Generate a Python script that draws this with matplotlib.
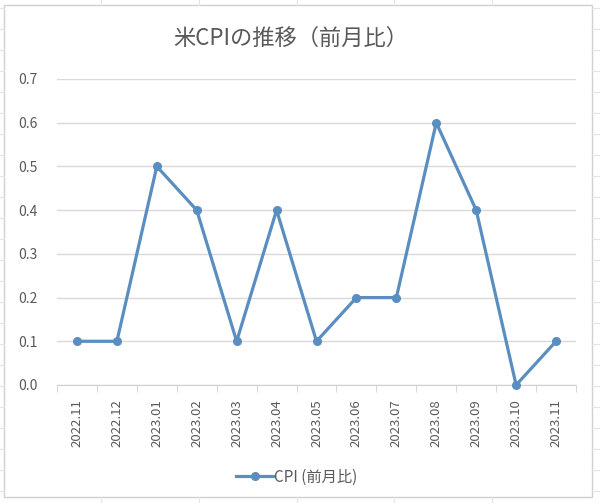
import matplotlib.pyplot as plt
from matplotlib.patches import Rectangle
from matplotlib.lines import Line2D
import numpy as np

plt.rcParams['font.family'] = ['Noto Sans CJK JP', 'DejaVu Sans']

# データ
months = ['2022.11', '2022.12', '2023.01', '2023.02', '2023.03', '2023.04', '2023.05',
          '2023.06', '2023.07', '2023.08', '2023.09', '2023.10', '2023.11']
cpi_mom = [0.1, 0.1, 0.5, 0.4, 0.1, 0.4, 0.1, 0.2, 0.2, 0.6, 0.4, 0.0, 0.1]
yticks = [0.0, 0.1, 0.2, 0.3, 0.4, 0.5, 0.6, 0.7]

W, H = 600, 503
fig = plt.figure(figsize=(6.0, 5.03), dpi=100)
fig.patch.set_facecolor('white')

# Excelのセル枠（背景）
cell_col = '#E4E4E4'
for xv in [101, 199, 297, 394, 492]:
    fig.add_artist(Line2D([xv / W, xv / W], [1 - 5 / H, 1], color=cell_col, lw=0.8))
    fig.add_artist(Line2D([xv / W, xv / W], [0, 1 - 497 / H], color=cell_col, lw=0.8))
for yv in range(8, 503, 21):
    fig.add_artist(Line2D([0, 4 / W], [1 - yv / H, 1 - yv / H], color=cell_col, lw=0.8))
    fig.add_artist(Line2D([592 / W, 1], [1 - yv / H, 1 - yv / H], color=cell_col, lw=0.8))

# グラフエリア枠
fig.add_artist(Rectangle((4 / W, 1 - 497 / H), 588 / W, 492 / H, transform=fig.transFigure,
                         facecolor='white', edgecolor='#D0D0D0', lw=1.0, zorder=0))

ax = fig.add_axes([57 / W, 1 - 385 / H, 519 / W, 306 / H])
ax.set_facecolor('none')
x = np.arange(len(months))
line_col = '#5B8EC0'
ax.plot(x, cpi_mom, color=line_col, lw=2.3, marker='o', markersize=5.5,
        label='CPI (前月比)', zorder=3, clip_on=False)

ax.set_xlim(-0.5, len(months) - 0.5)
ax.set_ylim(0, 0.7)
ax.set_yticks(yticks)
ax.set_yticklabels([f'{v:.1f}' for v in yticks])
ax.yaxis.grid(True, color='#D9D9D9', lw=1.0)
ax.set_axisbelow(True)

ax.set_xticks(x)
ax.set_xticklabels(months, rotation=90)
ax.set_xticks(np.arange(len(months) + 1) - 0.5, minor=True)
ax.tick_params(axis='x', which='major', length=0, pad=10, labelsize=9.5, labelcolor='#595959')
ax.tick_params(axis='x', which='minor', length=5, color='#D0D0D0', direction='out')
ax.tick_params(axis='y', length=0, pad=14, labelsize=10, labelcolor='#595959')

for s in ['left', 'right', 'top']:
    ax.spines[s].set_visible(False)
ax.spines['bottom'].set_color('#D0D0D0')

fig.text(291 / W, 1 - 38 / H, '米CPIの推移（前月比）', ha='center', va='center',
         fontsize=16, color='#595959')

fig.legend(loc='center', bbox_to_anchor=(297 / W, 1 - 477 / H), frameon=False,
           fontsize=11, labelcolor='#595959', handlelength=2.4, handletextpad=0.1)

fig.savefig('out.png', dpi=100)
